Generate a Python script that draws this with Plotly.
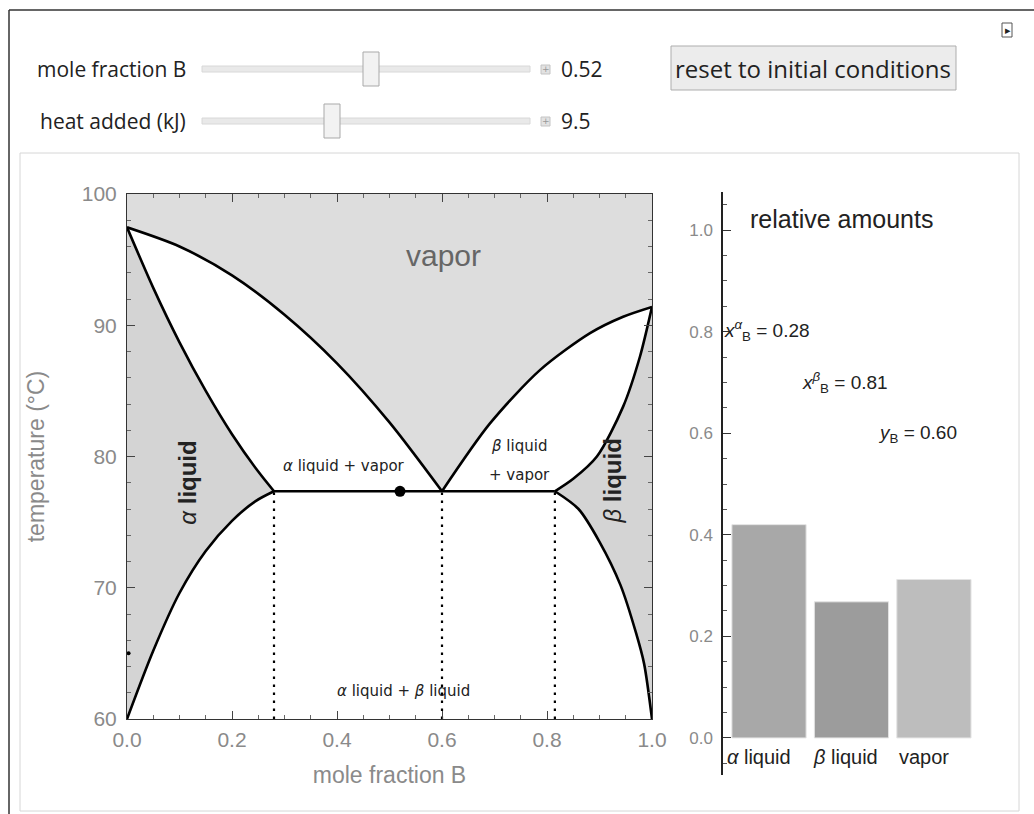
import plotly.graph_objects as go

W, H = 1034, 814

# ---- phase-diagram boundary curves (mole fraction B, temperature in °C)
dew_left_x = [0.0, 0.1, 0.2, 0.3, 0.4, 0.5, 0.6]
dew_left_T = [97.46, 96.0, 93.8, 90.8, 87.1, 82.6, 77.35]
bub_left_x = [0.0, 0.05, 0.1, 0.15, 0.2, 0.25, 0.28]
bub_left_T = [97.46, 92.85, 88.7, 85.0, 81.7, 78.85, 77.35]
sol_left_x = [0.0, 0.05, 0.10, 0.15, 0.20, 0.245, 0.28]
sol_left_T = [60.0, 65.2, 69.6, 72.8, 75.1, 76.6, 77.35]
dew_right_x = [0.6, 0.691, 0.787, 0.882, 0.945, 1.0]
dew_right_T = [77.35, 82.5, 86.6, 89.4, 90.65, 91.4]
bub_right_x = [0.815, 0.85, 0.895, 0.945, 0.977, 1.0]
bub_right_T = [77.35, 78.3, 80.0, 83.8, 87.6, 91.4]
sol_right_x = [0.815, 0.86, 0.90, 0.94, 0.97, 0.985, 1.0]
sol_right_T = [77.35, 76.0, 73.5, 70.2, 66.5, 64.2, 60.0]

T_three_phase = 77.35
x_alpha = 0.28
x_azeo = 0.60
x_beta = 0.815
state_x = 0.52
heat_marker_T = 65.0

x_ticks = [0.0, 0.2, 0.4, 0.6, 0.8, 1.0]
T_ticks = [60, 70, 80, 90, 100]

# ---- relative amounts bar chart
bar_labels = ["<i>α</i> liquid", "<i>β</i> liquid", "vapor"]
bar_values = [0.42, 0.268, 0.312]
bar_colors = ["#a8a8a8", "#9c9c9c", "#bdbdbd"]
bar_ticks = [0.0, 0.2, 0.4, 0.6, 0.8, 1.0]

slider1_label, slider1_value = "mole fraction B", "0.52"
slider2_label, slider2_value = "heat added (kJ)", "9.5"
button_text = "reset to initial conditions"


def px(x):
    return x / W


def py(y):
    return 1 - y / H


fig = go.Figure()

# vapor region
fig.add_trace(go.Scatter(
    x=[0.0] + dew_left_x + dew_right_x[1:] + [1.0],
    y=[100.0] + dew_left_T + dew_right_T[1:] + [100.0],
    fill="toself", fillcolor="#dddddd", mode="none", hoverinfo="skip",
    xaxis="x", yaxis="y", showlegend=False))
# alpha liquid region
fig.add_trace(go.Scatter(
    x=bub_left_x + sol_left_x[::-1],
    y=bub_left_T + sol_left_T[::-1],
    fill="toself", fillcolor="#d4d4d4", mode="none", hoverinfo="skip",
    xaxis="x", yaxis="y", showlegend=False))
# beta liquid region
fig.add_trace(go.Scatter(
    x=bub_right_x + sol_right_x[::-1],
    y=bub_right_T + sol_right_T[::-1],
    fill="toself", fillcolor="#d4d4d4", mode="none", hoverinfo="skip",
    xaxis="x", yaxis="y", showlegend=False))

for cx, cy in [(dew_left_x, dew_left_T), (bub_left_x, bub_left_T), (sol_left_x, sol_left_T),
               (dew_right_x, dew_right_T), (bub_right_x, bub_right_T), (sol_right_x, sol_right_T)]:
    fig.add_trace(go.Scatter(x=cx, y=cy, mode="lines",
                             line=dict(color="black", width=2.6, shape="spline", smoothing=0.8),
                             hoverinfo="skip", xaxis="x", yaxis="y", showlegend=False))

# three-phase tie line
fig.add_trace(go.Scatter(x=[x_alpha, x_beta], y=[T_three_phase, T_three_phase], mode="lines",
                         line=dict(color="black", width=2.6), hoverinfo="skip",
                         xaxis="x", yaxis="y", showlegend=False))
# dotted verticals
for xv in [x_alpha, x_azeo, x_beta]:
    fig.add_trace(go.Scatter(x=[xv, xv], y=[60, T_three_phase], mode="lines",
                             line=dict(color="black", width=2.2, dash="2.5px,5.5px"), hoverinfo="skip",
                             xaxis="x", yaxis="y", showlegend=False))
# state point
fig.add_trace(go.Scatter(x=[state_x], y=[T_three_phase], mode="markers",
                         marker=dict(color="black", size=11), hoverinfo="skip",
                         xaxis="x", yaxis="y", showlegend=False))
fig.add_trace(go.Scatter(x=[0.003], y=[heat_marker_T], mode="markers",
                         marker=dict(color="black", size=4), hoverinfo="skip",
                         xaxis="x", yaxis="y", showlegend=False, cliponaxis=False))

# bars
fig.add_trace(go.Bar(x=[0, 1, 2], y=bar_values,
                     marker=dict(color=bar_colors, line=dict(color="#e4e4e4", width=1)),
                     width=0.9, xaxis="x2", yaxis="y2", hoverinfo="skip", showlegend=False))

tickfont = dict(family="Liberation Sans, Arial, sans-serif", size=21, color="#8a8a8a")
titlefont = dict(family="Liberation Sans, Arial, sans-serif", size=23, color="#8a8a8a")
fig.update_layout(
    template="none",
    width=W, height=H, margin=dict(l=0, r=0, t=0, b=0, pad=0, autoexpand=False),
    paper_bgcolor="white", plot_bgcolor="white",
    xaxis=dict(domain=[px(127), px(652)], range=[0, 1], tickvals=x_ticks, automargin=False,
               ticktext=[f"{v:.1f}" for v in x_ticks], ticks="inside", ticklen=8, tickcolor="#444",
               ticklabelstandoff=2,
               minor=dict(dtick=0.05, ticks="inside", ticklen=4, tickcolor="#666"),
               showline=True, linecolor="#333", linewidth=1, mirror="ticks", showgrid=False, zeroline=False,
               tickfont=tickfont, title=dict(text="mole fraction B", font=titlefont, standoff=16)),
    yaxis=dict(domain=[py(719), py(194)], range=[60, 100], tickvals=T_ticks, ticks="inside", ticklen=8,
               automargin=False, tickcolor="#444", ticklabelstandoff=5,
               minor=dict(dtick=2, ticks="inside", ticklen=4, tickcolor="#666"),
               showline=True, linecolor="#333", linewidth=1, mirror="ticks", showgrid=False, zeroline=False,
               tickfont=tickfont, title=dict(text="temperature (°C)", font=titlefont, standoff=30)),
    xaxis2=dict(domain=[px(722), px(990)], range=[-0.57, 2.68], visible=False, anchor="y2", automargin=False),
    yaxis2=dict(domain=[py(775), py(192)], range=[-0.073, 1.075], anchor="free", position=px(722),
                automargin=False, ticklabelstandoff=5,
                tickvals=bar_ticks, ticktext=[f"{v:.1f}" for v in bar_ticks], ticks="inside", ticklen=8,
                tickcolor="#333", minor=dict(dtick=0.05, ticks="inside", ticklen=4, tickcolor="#555"),
                showline=True, linecolor="#222", linewidth=1.5, showgrid=False, zeroline=False,
                tickfont=dict(family="Liberation Sans, Arial, sans-serif", size=17, color="#8a8a8a")),
)

shapes = []
# outer frame and inner panel
shapes.append(dict(type="line", xref="paper", yref="paper", x0=px(9), x1=px(1034), y0=py(10), y1=py(10),
                   line=dict(color="#333", width=1.5)))
shapes.append(dict(type="line", xref="paper", yref="paper", x0=px(9), x1=px(9), y0=py(10), y1=py(814),
                   line=dict(color="#333", width=1.5)))
shapes.append(dict(type="rect", xref="paper", yref="paper", x0=px(20), x1=px(1019), y0=py(811), y1=py(153),
                   line=dict(color="#d6d6d6", width=1), layer="below"))
# sliders
for yc, thumb_x in [(69, 371), (121, 332)]:
    shapes.append(dict(type="rect", xref="paper", yref="paper", x0=px(202), x1=px(530), y0=py(yc + 3), y1=py(yc - 3),
                       line=dict(color="#d8d8d8", width=1), fillcolor="#e9e9e9"))
    shapes.append(dict(type="rect", xref="paper", yref="paper", x0=px(thumb_x - 8), x1=px(thumb_x + 8),
                       y0=py(yc + 17), y1=py(yc - 17), line=dict(color="#a9a9a9", width=1), fillcolor="#f2f2f2"))
    shapes.append(dict(type="rect", xref="paper", yref="paper", x0=px(541), x1=px(550), y0=py(yc + 5), y1=py(yc - 4),
                       line=dict(color="#c4c4c4", width=1), fillcolor="#e2e2e2"))
# button
shapes.append(dict(type="rect", xref="paper", yref="paper", x0=px(671), x1=px(956), y0=py(90), y1=py(46),
                   line=dict(color="#adadad", width=1), fillcolor="#ececec"))
# small corner icon
shapes.append(dict(type="rect", xref="paper", yref="paper", x0=px(1002), x1=px(1012), y0=py(37), y1=py(23),
                   line=dict(color="#555", width=1), fillcolor="white"))
fig.update_layout(shapes=shapes)

ui_font = dict(family="Open Sans, Noto Sans, sans-serif", size=21, color="#222")
ann = []
ann.append(dict(xref="paper", yref="paper", x=px(188), y=py(69), text=slider1_label, showarrow=False,
                xanchor="right", yanchor="middle", font=ui_font))
ann.append(dict(xref="paper", yref="paper", x=px(188), y=py(121), text=slider2_label, showarrow=False,
                xanchor="right", yanchor="middle", font=ui_font))
ann.append(dict(xref="paper", yref="paper", x=px(559), y=py(69), text=slider1_value, showarrow=False,
                xanchor="left", yanchor="middle", font=ui_font))
ann.append(dict(xref="paper", yref="paper", x=px(559), y=py(121), text=slider2_value, showarrow=False,
                xanchor="left", yanchor="middle", font=ui_font))
for yc in (69, 121):
    ann.append(dict(xref="paper", yref="paper", x=px(545.5), y=py(yc), text="+", showarrow=False,
                    xanchor="center", yanchor="middle", font=dict(family="DejaVu Sans", size=9, color="#999")))
ann.append(dict(xref="paper", yref="paper", x=px(813), y=py(69), text=button_text, showarrow=False,
                xanchor="center", yanchor="middle",
                font=dict(family="Open Sans, Noto Sans, sans-serif", size=24, color="#222")))
ann.append(dict(xref="paper", yref="paper", x=px(1007.5), y=py(30), text="▸", showarrow=False,
                xanchor="center", yanchor="middle", font=dict(family="DejaVu Sans", size=11, color="#222")))

# phase-diagram region labels
small = dict(family="DejaVu Sans, sans-serif", size=15, color="#222")
ann.append(dict(xref="x", yref="y", x=0.602, y=95.3, text="vapor", showarrow=False,
                font=dict(family="Liberation Sans, Arial", size=30, color="#666")))
ann.append(dict(xref="x", yref="y", x=0.116, y=78.0, text="<i>α</i> <b>liquid</b>", showarrow=False, textangle=-90,
                font=dict(family="Liberation Sans, Arial", size=24, color="#222")))
ann.append(dict(xref="x", yref="y", x=0.924, y=78.1, text="<i>β</i> <b>liquid</b>", showarrow=False, textangle=-90,
                font=dict(family="Liberation Sans, Arial", size=24, color="#222")))
ann.append(dict(xref="x", yref="y", x=0.414, y=79.3, text="<i>α</i> liquid + vapor", showarrow=False, font=small))
ann.append(dict(xref="x", yref="y", x=0.747, y=80.8, text="<i>β</i> liquid", showarrow=False, font=small))
ann.append(dict(xref="x", yref="y", x=0.747, y=78.6, text="+ vapor", showarrow=False, font=small))
ann.append(dict(xref="x", yref="y", x=0.526, y=62.1, text="<i>α</i> liquid + <i>β</i> liquid", showarrow=False,
                font=small))

# bar chart labels
ann.append(dict(xref="x2", yref="y2", x=0.879, y=1.022, text="relative amounts", showarrow=False,
                font=dict(family="Liberation Sans, Arial", size=25, color="#222")))
comp = dict(family="Liberation Sans, Arial", size=19, color="#222")
ann.append(dict(xref="x2", yref="y2", x=-0.57, y=0.803, xanchor="left",
                text="<i>x</i><sup><i>α</i></sup><sub>B</sub> = 0.28", showarrow=False, font=comp))
ann.append(dict(xref="x2", yref="y2", x=0.375, y=0.699, xanchor="left",
                text="<i>x</i><sup><i>β</i></sup><sub>B</sub> = 0.81", showarrow=False, font=comp))
ann.append(dict(xref="x2", yref="y2", x=1.297, y=0.598, xanchor="left",
                text="<i>y</i><sub>B</sub> = 0.60", showarrow=False, font=comp))
for i, lab in enumerate(bar_labels):
    ann.append(dict(xref="x2", yref="y2", x=i * 1.042 - 0.53, y=-0.037, xanchor="left", text=lab, showarrow=False,
                    font=dict(family="Liberation Sans, Arial", size=20, color="#222")))
fig.update_layout(annotations=ann)

fig.write_html("out.html", config={"displayModeBar": False},
               post_script="document.body.style.margin='0';")
